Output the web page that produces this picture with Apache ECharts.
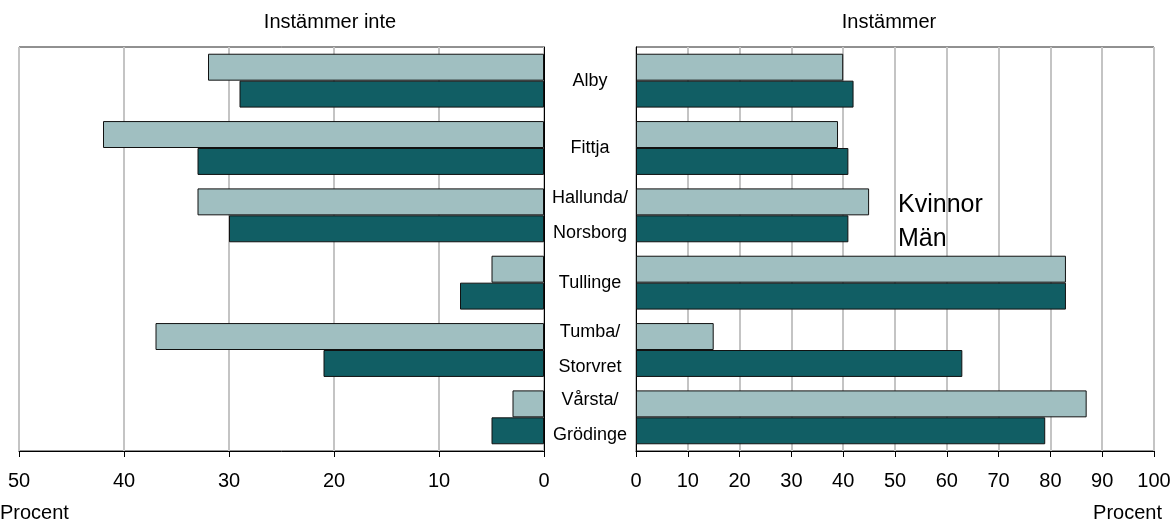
<!DOCTYPE html>
<html>
<head>
<meta charset="utf-8">
<script src="https://cdn.jsdelivr.net/npm/echarts@6/dist/echarts.min.js"></script>
<style>html,body{margin:0;padding:0;background:#fff}#c{width:1174px;height:524px}</style>
</head>
<body>
<div id="c"></div>
<script>
var categories = ['Alby', 'Fittja', 'Hallunda/\nNorsborg', 'Tullinge', 'Tumba/\nStorvret', 'Vårsta/\nGrödinge'];
var kvinnorInte = [32, 42, 33, 5, 37, 3];
var manInte = [29, 33, 30, 8, 21, 5];
var kvinnorInstammer = [40, 39, 45, 83, 15, 87];
var manInstammer = [42, 41, 41, 83, 63, 79];
var leftTicks = [0, 10, 20, 30, 40, 50];
var rightTicks = [0, 10, 20, 30, 40, 50, 60, 70, 80, 90, 100];

var FONT = 'Liberation Sans, Arial, sans-serif';
var LIGHT = '#a0bfc1';
var DARK = '#115e64';
var chart = echarts.init(document.getElementById('c'), null, {renderer: 'canvas'});

function xAxisCfg(gridIndex, maxVal, inverse) {
  return {
    type: 'value', gridIndex: gridIndex, min: 0, max: maxVal, interval: 10, inverse: inverse,
    axisLine: {show: true, lineStyle: {color: '#000', width: 1}},
    axisTick: {show: true, length: 6, lineStyle: {color: '#000'}},
    axisLabel: {color: '#000', fontSize: 20, fontFamily: FONT, margin: 20},
    splitLine: {show: true, lineStyle: {color: '#c4c4c4', width: 2}}
  };
}

var option = {
  animation: false,
  backgroundColor: '#fff',
  title: [
    {text: 'Instämmer inte', left: 325, top: 7, textAlign: 'center',
     textStyle: {fontSize: 20, fontWeight: 'normal', color: '#000', fontFamily: FONT}},
    {text: 'Instämmer', left: 884, top: 7, textAlign: 'center',
     textStyle: {fontSize: 20, fontWeight: 'normal', color: '#000', fontFamily: FONT}}
  ],
  legend: {
    data: ['Kvinnor', 'Män'], orient: 'vertical', left: 887, top: 185,
    itemWidth: 0, itemHeight: 0, itemGap: 4, selectedMode: false,
    textStyle: {fontSize: 25, color: '#000', fontFamily: FONT, lineHeight: 30}
  },
  grid: [
    {left: 19, right: 630, top: 47, bottom: 73, show: true, borderColor: '#222', borderWidth: 1, containLabel: false},
    {left: 636, right: 20, top: 47, bottom: 73, show: true, borderColor: '#222', borderWidth: 1, containLabel: false}
  ],
  xAxis: [xAxisCfg(0, 50, true), xAxisCfg(1, 100, false)],
  yAxis: [
    {type: 'category', gridIndex: 0, data: categories, inverse: true, position: 'right',
     axisLine: {show: true, lineStyle: {color: '#000'}}, axisTick: {show: false},
     axisLabel: {show: false}, splitLine: {show: false}},
    {type: 'category', gridIndex: 1, data: categories, inverse: true, position: 'left',
     axisLine: {show: true, lineStyle: {color: '#000'}}, axisTick: {show: false},
     axisLabel: {show: true, interval: 0, hideOverlap: false, align: 'center', margin: 46, color: '#000', fontSize: 18,
                 fontFamily: FONT, lineHeight: 35},
     splitLine: {show: false}}
  ],
  series: [
    {name: 'Kvinnor', type: 'bar', xAxisIndex: 0, yAxisIndex: 0, data: kvinnorInte,
     barCategoryGap: '20%', barGap: '0%', itemStyle: {color: LIGHT, borderColor: '#111', borderWidth: 1}},
    {name: 'Män', type: 'bar', xAxisIndex: 0, yAxisIndex: 0, data: manInte,
     barCategoryGap: '20%', barGap: '0%', itemStyle: {color: DARK, borderColor: '#111', borderWidth: 1}},
    {name: 'Kvinnor', type: 'bar', xAxisIndex: 1, yAxisIndex: 1, data: kvinnorInstammer,
     barCategoryGap: '20%', barGap: '0%', itemStyle: {color: LIGHT, borderColor: '#111', borderWidth: 1}},
    {name: 'Män', type: 'bar', xAxisIndex: 1, yAxisIndex: 1, data: manInstammer,
     barCategoryGap: '20%', barGap: '0%', itemStyle: {color: DARK, borderColor: '#111', borderWidth: 1}}
  ],
  graphic: [
    {type: 'text', left: 0, top: 503, style: {text: 'Procent', fontSize: 20, fontFamily: FONT, fill: '#000'}},
    {type: 'text', right: 12, top: 503, style: {text: 'Procent', fontSize: 20, fontFamily: FONT, fill: '#000'}}
  ]
};
chart.setOption(option);
</script>
</body>
</html>
